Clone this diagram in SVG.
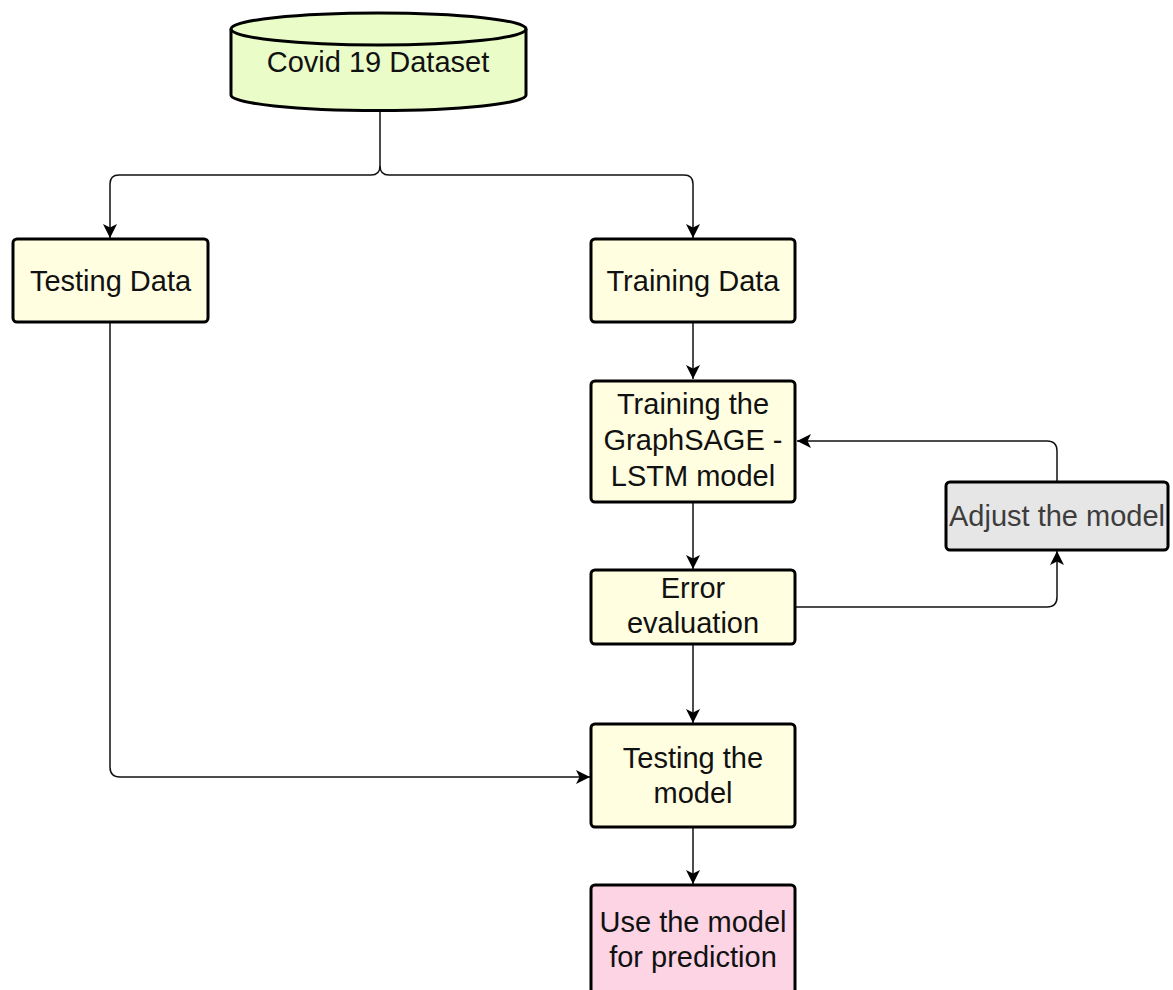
<svg xmlns="http://www.w3.org/2000/svg" width="1173" height="990" viewBox="0 0 1173 990">
  <style>
    .box { stroke: #000; stroke-width: 3; }
    .yellow { fill: #fffee0; }
    .label { font-family: "Liberation Sans", Arial, sans-serif; font-size: 29px; fill: #111; text-anchor: middle; }
    .edge { fill: none; stroke: #111; stroke-width: 1.5; }
  </style>
  <defs>
    <marker id="arrow" markerUnits="userSpaceOnUse" viewBox="0 0 14 14" refX="14" refY="7" markerWidth="14" markerHeight="14" orient="auto">
      <path d="M0,0 L14,7 L0,14 L3.5,7 Z" fill="#000"/>
    </marker>
  </defs>
  <rect width="1173" height="990" fill="#fff"/>

  <g id="connectors">
    <path class="edge" d="M380,110 L380,166 Q380,175 371,175 L119,175 Q110,175 110,184 L110,238" marker-end="url(#arrow)"/>
    <path class="edge" d="M380,166 Q380,175 389,175 L684,175 Q693,175 693,184 L693,238" marker-end="url(#arrow)"/>
    <path class="edge" d="M693,322 L693,379" marker-end="url(#arrow)"/>
    <path class="edge" d="M693,502 L693,569" marker-end="url(#arrow)"/>
    <path class="edge" d="M693,644 L693,723" marker-end="url(#arrow)"/>
    <path class="edge" d="M693,827 L693,884" marker-end="url(#arrow)"/>
    <path class="edge" d="M795,607 L1047,607 Q1057,607 1057,597 L1057,551" marker-end="url(#arrow)"/>
    <path class="edge" d="M1057,482 L1057,451 Q1057,441 1047,441 L797,441" marker-end="url(#arrow)"/>
    <path class="edge" d="M110,322 L110,767 Q110,777 120,777 L590,777" marker-end="url(#arrow)"/>
  </g>

  <g id="covid-dataset">
    <path d="M231,29 A147.5,16 0 0 1 526,29 L526,95 A147.5,15.5 0 0 1 231,95 Z" fill="#eafcc8" stroke="#000" stroke-width="3"/>
    <path d="M231,29 A147.5,16 0 0 0 526,29" fill="none" stroke="#000" stroke-width="3"/>
    <text class="label" x="378" y="72">Covid 19 Dataset</text>
  </g>

  <g id="testing-data">
    <rect class="box yellow" x="13" y="239" width="195" height="83" rx="4"/>
    <text class="label" x="110.5" y="291">Testing Data</text>
  </g>

  <g id="training-data">
    <rect class="box yellow" x="591" y="239" width="204" height="83" rx="4"/>
    <text class="label" x="693" y="291">Training Data</text>
  </g>

  <g id="training-model">
    <rect class="box yellow" x="591" y="381" width="204" height="121" rx="4"/>
    <text class="label" x="693" y="414">Training the</text>
    <text class="label" x="693" y="450">GraphSAGE -</text>
    <text class="label" x="693" y="486">LSTM model</text>
  </g>

  <g id="error-evaluation">
    <rect class="box yellow" x="591" y="570" width="204" height="74" rx="4"/>
    <text class="label" x="693" y="598">Error</text>
    <text class="label" x="693" y="633">evaluation</text>
  </g>

  <g id="adjust-model">
    <rect class="box" x="946" y="482" width="222" height="68" rx="4" fill="#e6e6e6"/>
    <text class="label" x="1057" y="526" style="fill:#3d3d3d">Adjust the model</text>
  </g>

  <g id="testing-model">
    <rect class="box yellow" x="591" y="724" width="204" height="103" rx="4"/>
    <text class="label" x="693" y="768">Testing the</text>
    <text class="label" x="693" y="803">model</text>
  </g>

  <g id="use-model">
    <rect class="box" x="591" y="885" width="204" height="120" rx="4" fill="#fcd4e4"/>
    <text class="label" x="693" y="932">Use the model</text>
    <text class="label" x="693" y="967">for prediction</text>
  </g>
</svg>
